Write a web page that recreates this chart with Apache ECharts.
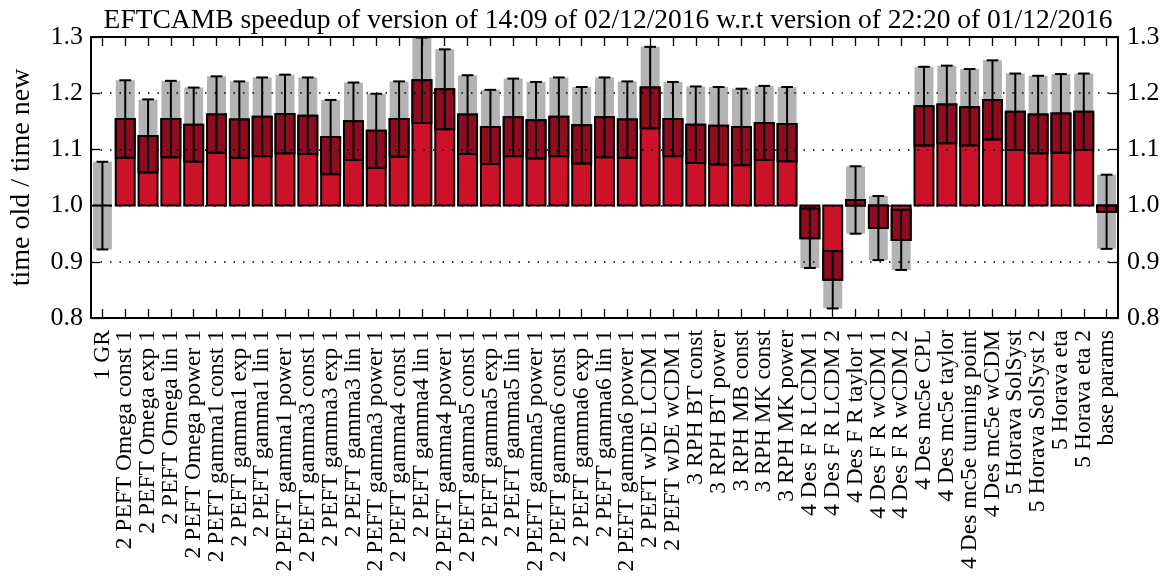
<!DOCTYPE html>
<html>
<head>
<meta charset="utf-8">
<script src="https://cdn.jsdelivr.net/npm/echarts@6/dist/echarts.min.js"></script>
<style>
html,body{margin:0;padding:0;background:#fff;}
#chart{width:1174px;height:584px;}
</style>
</head>
<body>
<div id="chart"></div>
<script>
const categories = [
  "1 GR",
  "2 PEFT Omega const 1", "2 PEFT Omega exp 1", "2 PEFT Omega lin 1", "2 PEFT Omega power 1",
  "2 PEFT gamma1 const 1", "2 PEFT gamma1 exp 1", "2 PEFT gamma1 lin 1", "2 PEFT gamma1 power 1",
  "2 PEFT gamma3 const 1", "2 PEFT gamma3 exp 1", "2 PEFT gamma3 lin 1", "2 PEFT gamma3 power 1",
  "2 PEFT gamma4 const 1", "2 PEFT gamma4 lin 1", "2 PEFT gamma4 power 1",
  "2 PEFT gamma5 const 1", "2 PEFT gamma5 exp 1", "2 PEFT gamma5 lin 1", "2 PEFT gamma5 power 1",
  "2 PEFT gamma6 const 1", "2 PEFT gamma6 exp 1", "2 PEFT gamma6 lin 1", "2 PEFT gamma6 power 1",
  "2 PEFT wDE LCDM 1", "2 PEFT wDE wCDM 1",
  "3 RPH BT const", "3 RPH BT power", "3 RPH MB const", "3 RPH MK const", "3 RPH MK power",
  "4 Des F R LCDM 1", "4 Des F R LCDM 2", "4 Des F R taylor 1", "4 Des F R wCDM 1", "4 Des F R wCDM 2",
  "4 Des mc5e CPL", "4 Des mc5e taylor", "4 Des mc5e turning point", "4 Des mc5e wCDM",
  "5 Horava SolSyst", "5 Horava SolSyst 2", "5 Horava eta", "5 Horava eta 2",
  "base params"
];
const speedup = [
  1.000,
  1.154, 1.124, 1.154, 1.144,
  1.162, 1.153, 1.158, 1.163,
  1.160, 1.122, 1.150, 1.133,
  1.154, 1.223, 1.207,
  1.162, 1.140, 1.157, 1.152,
  1.158, 1.143, 1.157, 1.153,
  1.210, 1.154,
  1.144, 1.142, 1.140, 1.147, 1.145,
  0.942, 0.868, 1.010, 0.960, 0.939,
  1.177, 1.180, 1.175, 1.188,
  1.167, 1.162, 1.164, 1.167,
  0.989
];
const sigma = [
  0.078,
  0.069, 0.065, 0.068, 0.066,
  0.068, 0.068, 0.070, 0.070,
  0.068, 0.066, 0.069, 0.066,
  0.067, 0.076, 0.071,
  0.070, 0.066, 0.069, 0.068,
  0.070, 0.068, 0.071, 0.068,
  0.0725, 0.066,
  0.068, 0.069, 0.068, 0.066, 0.066,
  0.053, 0.051, 0.060, 0.057, 0.0535,
  0.070, 0.069, 0.068, 0.0705,
  0.068, 0.069, 0.070, 0.068,
  0.066
];
const yMin = 0.8, yMax = 1.3, yStep = 0.1;
const baseline = 1.0;

const FONT = "'Liberation Serif', 'DejaVu Serif', serif";
const RED = '#cc1229', DARK = '#8e0b20', GRAY = '#b3b3b3';

const chart = echarts.init(document.getElementById('chart'), null, {renderer: 'canvas'});

function renderItem(params, api) {
  const i = api.value(0), v = api.value(1), s = api.value(2);
  const bandW = api.size([1, 0])[0];
  const bw = bandW * 0.83;
  const cx = api.coord([i, baseline])[0];
  const yOf = (val) => api.coord([i, val])[1];
  const x0 = cx - bw / 2;
  const rect = (a, b) => {
    const ya = yOf(a), yb = yOf(b);
    return {x: x0, y: Math.min(ya, yb), width: bw, height: Math.abs(ya - yb)};
  };
  const children = [];
  children.push({type: 'rect', shape: rect(v - s, v + s), style: {fill: GRAY}});
  children.push({type: 'rect', shape: rect(baseline, v), style: {fill: RED, stroke: '#000', lineWidth: 2}});
  let lo, hi;
  if (v >= baseline) { lo = Math.max(baseline, v - s); hi = v; }
  else { lo = v; hi = Math.min(baseline, v + s); }
  if (hi > lo) {
    children.push({type: 'rect', shape: rect(lo, hi), style: {fill: DARK, stroke: '#000', lineWidth: 2}});
  }
  const capW = bw * 0.62;
  const yt = yOf(v + s), yb = yOf(v - s);
  children.push({type: 'line', shape: {x1: cx, y1: yt, x2: cx, y2: yb}, style: {stroke: '#000', lineWidth: 2}});
  children.push({type: 'line', shape: {x1: cx - capW / 2, y1: yt, x2: cx + capW / 2, y2: yt}, style: {stroke: '#000', lineWidth: 2}});
  children.push({type: 'line', shape: {x1: cx - capW / 2, y1: yb, x2: cx + capW / 2, y2: yb}, style: {stroke: '#000', lineWidth: 2}});
  return {type: 'group', children: children};
}

const axisLineStyle = {show: true, onZero: false, lineStyle: {color: '#000', width: 2}};
const tickStyle = {show: true, inside: true, length: 9, lineStyle: {color: '#000', width: 1.3}};

const option = {
  backgroundColor: '#fff',
  animation: false,
  title: {
    text: 'EFTCAMB speedup of version of 14:09 of 02/12/2016 w.r.t version of 22:20 of 01/12/2016',
    left: 603, textAlign: 'center', top: 2,
    textStyle: {fontFamily: FONT, fontSize: 27.5, fontWeight: 'normal', color: '#000'}
  },
  grid: {left: 88, right: 56, top: 37, bottom: 266, containLabel: false},
  xAxis: [
    {
      type: 'category', data: categories, position: 'bottom', boundaryGap: true, z: 5,
      axisLine: axisLineStyle, axisTick: Object.assign({alignWithLabel: true, interval: 0}, tickStyle),
      axisLabel: {rotate: 90, interval: 0, margin: 12, fontFamily: FONT, fontSize: 23.5, color: '#000'},
      splitLine: {show: false}
    },
    {
      type: 'category', data: categories, position: 'top', boundaryGap: true, z: 5,
      axisLine: axisLineStyle, axisTick: Object.assign({alignWithLabel: true, interval: 0}, tickStyle),
      axisLabel: {show: false}, splitLine: {show: false}
    }
  ],
  yAxis: [
    {
      type: 'value', min: yMin, max: yMax, interval: yStep, position: 'left', z: 5,
      axisLine: axisLineStyle, axisTick: tickStyle,
      axisLabel: {margin: 8, fontFamily: FONT, fontSize: 26, color: '#000', formatter: (val) => val.toFixed(1)},
      splitLine: {show: true, lineStyle: {color: '#000', width: 1.5, type: [1.5, 8]}},
      name: 'time old / time new', nameLocation: 'middle', nameGap: 55,
      nameTextStyle: {fontFamily: FONT, fontSize: 28, color: '#000'}
    },
    {
      type: 'value', min: yMin, max: yMax, interval: yStep, position: 'right', z: 5,
      axisLine: axisLineStyle, axisTick: tickStyle,
      axisLabel: {margin: 9, fontFamily: FONT, fontSize: 26, color: '#000', formatter: (val) => val.toFixed(1)},
      splitLine: {show: false}
    }
  ],
  series: [{
    type: 'custom',
    xAxisIndex: 0, yAxisIndex: 0, z: 2,
    renderItem: renderItem,
    clip: true,
    encode: {x: 0, y: 1},
    data: categories.map((c, i) => [i, speedup[i], sigma[i]])
  }]
};
chart.setOption(option);
</script>
</body>
</html>
